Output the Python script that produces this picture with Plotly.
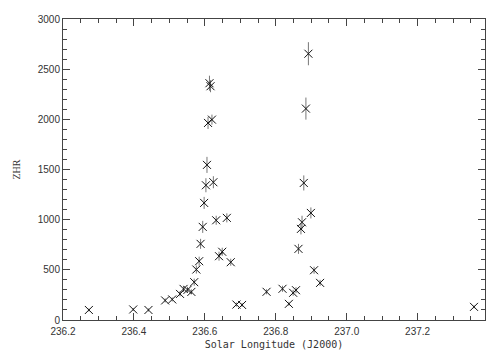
import plotly.graph_objects as go

# Solar longitude (J2000) and ZHR values
sol_long = [236.273, 236.398, 236.441, 236.488, 236.508, 236.530, 236.540, 236.551,
            236.562, 236.570, 236.576, 236.584, 236.588, 236.594, 236.598, 236.603,
            236.606, 236.609, 236.613, 236.616, 236.620, 236.624, 236.632, 236.640,
            236.649, 236.662, 236.673, 236.689, 236.705, 236.774, 236.819, 236.837,
            236.849, 236.857, 236.864, 236.871, 236.874, 236.879, 236.885, 236.892,
            236.899, 236.908, 236.925, 237.359]
zhr = [100, 105, 100, 195, 205, 260, 310, 300,
       280, 377, 503, 586, 759, 928, 1167, 1343,
       1546, 1964, 2360, 2330, 1997, 1373, 994, 636,
       680, 1018, 576, 154, 150, 281, 311, 161,
       271, 297, 709, 908, 974, 1366, 2107, 2654,
       1067, 496, 370, 131]
zhr_err = [15, 15, 15, 20, 20, 25, 30, 30,
           25, 35, 40, 45, 50, 60, 60, 70,
           80, 60, 75, 60, 50, 60, 45, 45,
           40, 45, 35, 20, 20, 25, 30, 20,
           30, 30, 50, 55, 65, 75, 110, 115,
           55, 35, 30, 15]

x_ticks = [236.2, 236.4, 236.6, 236.8, 237.0, 237.2]
x_tick_text = ["236.2", "236.4", "236.6", "236.8", "237.0", "237.2"]
y_ticks = [0, 500, 1000, 1500, 2000, 2500, 3000]

fig = go.Figure()
fig.add_trace(go.Scatter(
    x=sol_long, y=zhr, mode="markers",
    marker=dict(symbol="x-thin-open", size=8, color="#111111",
                line=dict(width=1, color="#111111")),
    error_y=dict(type="data", array=zhr_err, visible=True,
                 color="#777777", thickness=1, width=0),
    showlegend=False,
))

axis_common = dict(
    showline=True, linecolor="#444444", linewidth=1, mirror="ticks",
    ticks="inside", tickcolor="#444444", tickwidth=1, ticklen=7,
    showgrid=False, zeroline=False, automargin=False,
    tickfont=dict(family="Liberation Sans, Arial, sans-serif", size=10, color="#333333"),
)

fig.update_xaxes(
    range=[236.2, 237.39], tickvals=x_ticks, ticktext=x_tick_text,
    ticklabelstandoff=2,
    minor=dict(dtick=0.05, tick0=236.2, ticks="inside", ticklen=4,
               tickcolor="#444444", tickwidth=1),
    title=dict(text="Solar Longitude (J2000)", standoff=4,
               font=dict(family="DejaVu Sans Mono, monospace", size=10, color="#333333")),
    **axis_common,
)
fig.update_yaxes(
    range=[0, 3000], tickvals=y_ticks,
    minor=dict(dtick=100, tick0=0, ticks="inside", ticklen=4,
               tickcolor="#444444", tickwidth=1),
    title=dict(text="ZHR", standoff=15,
               font=dict(family="Liberation Serif, serif", size=10, color="#333333")),
    **axis_common,
)

# page body has an 8px default margin, so the figure is sized to fit the window
fig.update_layout(
    width=496, height=352,
    margin=dict(l=55, r=19, t=11, b=40),
    paper_bgcolor="white", plot_bgcolor="white",
)

fig.write_html("out.html")
